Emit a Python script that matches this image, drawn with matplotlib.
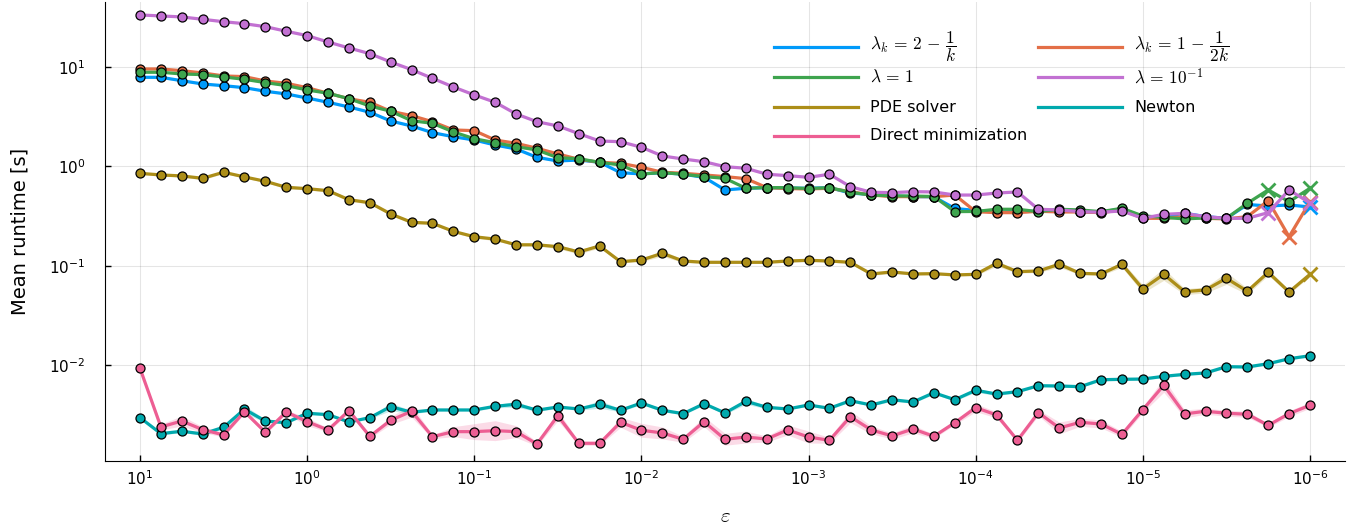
import numpy as np
import matplotlib
matplotlib.use("Agg")
import matplotlib.pyplot as plt
from matplotlib.lines import Line2D
from matplotlib.ticker import NullLocator, FixedLocator

plt.rcParams["mathtext.fontset"] = "cm"
plt.rcParams["font.family"] = "DejaVu Sans"

# tolerance grid (decreasing), 8 values per decade
eps = np.logspace(1, -6, 57)

# log10 of mean runtime [s]
log_t_lam_a = [0.893, 0.893, 0.859, 0.826, 0.809, 0.789, 0.753, 0.726, 0.685, 0.642,
               0.595, 0.542, 0.454, 0.404, 0.337, 0.296, 0.263, 0.213, 0.173, 0.089,
               0.052, 0.062, 0.039, -0.065, -0.078, -0.065, -0.081, -0.112, -0.239, -0.222,
               -0.215, -0.220, -0.222, -0.216, -0.270, -0.285, -0.300, -0.306, -0.308, -0.425,
               -0.445, -0.463, -0.457, -0.453, -0.440, -0.460, -0.460, -0.430, -0.507, -0.507,
               -0.473, -0.507, -0.524, -0.385, -0.400, -0.390, -0.410]
log_t_lam_b = [0.977, 0.977, 0.960, 0.937, 0.907, 0.900, 0.856, 0.833, 0.789, 0.733,
               0.678, 0.642, 0.552, 0.508, 0.447, 0.364, 0.357, 0.263, 0.230, 0.180,
               0.123, 0.069, 0.039, 0.029, -0.011, -0.061, -0.071, -0.088, -0.105, -0.125,
               -0.215, -0.225, -0.229, -0.222, -0.256, -0.290, -0.306, -0.306, -0.306, -0.290,
               -0.457, -0.467, -0.467, -0.453, -0.460, -0.460, -0.467, -0.440, -0.524, -0.524,
               -0.507, -0.524, -0.530, -0.507, -0.347, -0.709, -0.357]
log_t_lam_c = [0.944, 0.944, 0.927, 0.920, 0.897, 0.873, 0.840, 0.810, 0.766, 0.733,
               0.678, 0.605, 0.552, 0.457, 0.431, 0.344, 0.276, 0.236, 0.196, 0.163,
               0.085, 0.075, 0.039, 0.012, -0.078, -0.065, -0.081, -0.105, -0.122, -0.222,
               -0.215, -0.216, -0.225, -0.216, -0.262, -0.290, -0.298, -0.300, -0.305, -0.457,
               -0.455, -0.433, -0.433, -0.457, -0.433, -0.440, -0.457, -0.423, -0.500, -0.514,
               -0.530, -0.520, -0.524, -0.373, -0.239, -0.357, -0.222]
log_t_lam_d = [1.520, 1.510, 1.500, 1.476, 1.452, 1.432, 1.402, 1.356, 1.312, 1.248,
               1.188, 1.131, 1.047, 0.970, 0.883, 0.796, 0.716, 0.642, 0.525, 0.447,
               0.404, 0.327, 0.253, 0.246, 0.190, 0.103, 0.072, 0.045, -0.005, -0.021,
               -0.081, -0.095, -0.112, -0.081, -0.206, -0.262, -0.266, -0.256, -0.259, -0.290,
               -0.290, -0.270, -0.259, -0.433, -0.440, -0.457, -0.463, -0.450, -0.524, -0.484,
               -0.474, -0.507, -0.524, -0.524, -0.467, -0.239, -0.370]
log_t_pde = [-0.072, -0.088, -0.098, -0.122, -0.061, -0.108, -0.152, -0.212, -0.226, -0.246,
             -0.337, -0.367, -0.480, -0.564, -0.574, -0.655, -0.709, -0.733, -0.790, -0.790,
             -0.809, -0.862, -0.802, -0.960, -0.943, -0.876, -0.953, -0.966, -0.966, -0.966,
             -0.966, -0.953, -0.946, -0.953, -0.966, -1.083, -1.063, -1.083, -1.080, -1.093,
             -1.087, -0.976, -1.060, -1.053, -0.986, -1.077, -1.083, -0.986, -1.234, -1.087,
             -1.261, -1.244, -1.127, -1.257, -1.067, -1.264, -1.087]
log_t_newton = [-2.527, -2.688, -2.664, -2.691, -2.624, -2.443, -2.561, -2.578, -2.483, -2.497,
                -2.571, -2.527, -2.417, -2.473, -2.450, -2.450, -2.450, -2.413, -2.393, -2.452,
                -2.420, -2.440, -2.393, -2.453, -2.380, -2.453, -2.487, -2.387, -2.480, -2.363,
                -2.423, -2.440, -2.400, -2.433, -2.357, -2.400, -2.347, -2.370, -2.277, -2.347,
                -2.252, -2.290, -2.266, -2.206, -2.209, -2.216, -2.146, -2.142, -2.139, -2.112,
                -2.092, -2.078, -2.015, -2.018, -1.985, -1.935, -1.905]
log_t_direct = [-2.031, -2.621, -2.561, -2.648, -2.701, -2.467, -2.674, -2.470, -2.568, -2.651,
                -2.457, -2.715, -2.554, -2.463, -2.719, -2.668, -2.668, -2.658, -2.668, -2.792,
                -2.508, -2.785, -2.785, -2.574, -2.654, -2.681, -2.745, -2.568, -2.745, -2.722,
                -2.742, -2.651, -2.722, -2.755, -2.518, -2.651, -2.711, -2.641, -2.715, -2.578,
                -2.427, -2.500, -2.755, -2.477, -2.631, -2.574, -2.591, -2.695, -2.447, -2.202,
                -2.490, -2.463, -2.483, -2.493, -2.604, -2.487, -2.403]

# half width of the shaded band, in decades
band_pde = [0.012, 0.012, 0.012, 0.015, 0.012, 0.012, 0.012, 0.015, 0.012, 0.015,
            0.015, 0.015, 0.012, 0.015, 0.012, 0.012, 0.015, 0.015, 0.012, 0.012,
            0.02, 0.02, 0.02, 0.012, 0.015, 0.03, 0.015, 0.012, 0.012, 0.012,
            0.012, 0.012, 0.012, 0.012, 0.012, 0.015, 0.015, 0.012, 0.012, 0.012,
            0.012, 0.03, 0.015, 0.015, 0.03, 0.015, 0.015, 0.03, 0.04, 0.06,
            0.03, 0.03, 0.06, 0.03, 0.03, 0.02, 0.02]
band_newton = [0.012, 0.015, 0.012, 0.015, 0.015, 0.04, 0.015, 0.012, 0.015, 0.012,
               0.012, 0.012, 0.04, 0.015, 0.012, 0.012, 0.012, 0.015, 0.03, 0.012,
               0.015, 0.012, 0.04, 0.015, 0.015, 0.015, 0.012, 0.015, 0.012, 0.03,
               0.015, 0.012, 0.012, 0.012, 0.015, 0.012, 0.015, 0.012, 0.015, 0.012,
               0.02, 0.015, 0.012, 0.012, 0.012, 0.012, 0.012, 0.012, 0.012, 0.012,
               0.012, 0.012, 0.012, 0.012, 0.012, 0.012, 0.012]
band_direct = [0.01, 0.03, 0.05, 0.03, 0.02, 0.02, 0.02, 0.02, 0.04, 0.02,
               0.02, 0.02, 0.04, 0.06, 0.02, 0.05, 0.08, 0.10, 0.06, 0.02,
               0.05, 0.02, 0.02, 0.05, 0.07, 0.06, 0.03, 0.05, 0.06, 0.06,
               0.03, 0.05, 0.06, 0.03, 0.06, 0.04, 0.03, 0.04, 0.02, 0.02,
               0.04, 0.03, 0.02, 0.03, 0.06, 0.04, 0.04, 0.03, 0.03, 0.07,
               0.04, 0.03, 0.03, 0.03, 0.02, 0.03, 0.03]
band_small = [0.008] * 57

# indices drawn with a cross instead of a circle
fails_lam_a = [56]
fails_lam_b = [55, 56]
fails_lam_c = [54, 56]
fails_lam_d = [54, 56]
fails_pde = [56]

labels = [r"$\lambda_k\,=\,2\,-\,\dfrac{1}{k}$", r"$\lambda_k\,=\,1\,-\,\dfrac{1}{2k}$",
          r"$\lambda\,=\,1$", r"$\lambda\,=\,10^{-1}$", "PDE solver", "Newton",
          "Direct minimization"]
colors = ["#009AFA", "#E36F47", "#3EA44E", "#C271D2", "#AC8E18", "#00A9AD", "#ED5E93"]

series = [
    (log_t_lam_a, band_small, fails_lam_a),
    (log_t_lam_b, band_small, fails_lam_b),
    (log_t_lam_c, band_small, fails_lam_c),
    (log_t_lam_d, band_small, fails_lam_d),
    (log_t_pde, band_pde, fails_pde),
    (log_t_newton, band_newton, []),
    (log_t_direct, band_direct, []),
]

W, H = 1357, 525
fig = plt.figure(figsize=(W / 100, H / 100), dpi=100)
ax = fig.add_axes([105 / W, 64 / H, 1240 / W, 459 / H])

for (lt, band, fails), c in zip(series, colors):
    lt = np.array(lt)
    band = np.array(band)
    t = 10 ** lt
    ax.fill_between(eps, 10 ** (lt - band), 10 ** (lt + band), color=c, alpha=0.22, lw=0)
    ax.plot(eps, t, color=c, lw=2.3)
    ok = np.array([i not in fails for i in range(len(t))])
    ax.plot(eps[ok], t[ok], ls="none", marker="o", ms=6.5, mfc=c, mec="black", mew=0.9)
    if fails:
        ax.plot(eps[fails], t[fails], ls="none", marker="x", ms=10, mec=c, mew=2)

ax.set_xscale("log")
ax.set_yscale("log")
ax.set_xlim(10 ** 1.2094, 10 ** -6.2095)
ax.set_ylim(10 ** -2.963, 10 ** 1.650)
ax.xaxis.set_major_locator(FixedLocator([10.0 ** p for p in range(1, -7, -1)]))
ax.yaxis.set_major_locator(FixedLocator([1e-2, 1e-1, 1, 10]))
ax.xaxis.set_minor_locator(NullLocator())
ax.yaxis.set_minor_locator(NullLocator())
ax.grid(True, color="black", alpha=0.1, lw=0.8)
ax.set_axisbelow(True)
for s in ["top", "right"]:
    ax.spines[s].set_visible(False)
ax.tick_params(direction="in", length=4.5, width=1, labelsize=11)
ax.tick_params(axis="x", pad=6)
ax.tick_params(axis="y", pad=14)
ax.set_ylabel("Mean runtime [s]", fontsize=14, labelpad=14)
ax.set_xlabel(r"$\varepsilon$", fontsize=15, labelpad=13)

# legend laid out in a fixed 2-column grid (row-wise, like the original)
leg_rows = [47, 77, 107, 136]
leg_cols = [774, 1038]
for i, (lab, c) in enumerate(zip(labels, colors)):
    x0 = leg_cols[i % 2]
    y0 = 1 - leg_rows[i // 2] / H
    fig.add_artist(Line2D([x0 / W, (x0 + 84) / W], [y0, y0], color=c, lw=2.3))
    fs = 12.5 if lab.startswith("$") else 11.5
    fig.text((x0 + 96) / W, y0, lab, fontsize=fs, va="center", ha="left")

fig.savefig("out.png", dpi=100)
